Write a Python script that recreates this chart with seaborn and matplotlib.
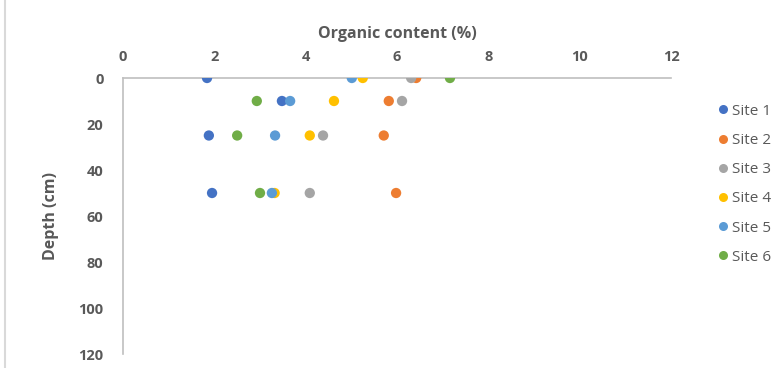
import matplotlib
matplotlib.use("Agg")
import matplotlib.pyplot as plt
from matplotlib.lines import Line2D
import seaborn as sns
import pandas as pd

# Organic content (%) measured at each depth, per site
depths = [0, 10, 25, 50]
sites = ["Site 1", "Site 2", "Site 3", "Site 4", "Site 5", "Site 6"]
site1 = [1.84, 3.48, 1.88, 1.95]
site2 = [6.42, 5.82, 5.71, 5.98]
site3 = [6.31, 6.11, 4.38, 4.09]
site4 = [5.25, 4.62, 4.09, 3.32]
site5 = [5.01, 3.66, 3.33, 3.26]
site6 = [7.16, 2.93, 2.50, 3.00]
x_ticks = [0, 2, 4, 6, 8, 10, 12]
y_ticks = [0, 20, 40, 60, 80, 100, 120]

colors = ["#4472C4", "#ED7D31", "#A5A5A5", "#FFC000", "#5B9BD5", "#70AD47"]

rows = []
for name, vals in zip(sites, [site1, site2, site3, site4, site5, site6]):
    for d, v in zip(depths, vals):
        rows.append({"Site": name, "Depth": d, "Organic": v})
df = pd.DataFrame(rows)

sns.set_theme(style="white")
plt.rcParams["font.family"] = ["Open Sans", "DejaVu Sans"]
text_color = "#595959"
axis_color = "#BFBFBF"

fig = plt.figure(figsize=(7.81, 3.68), dpi=100)
ax = fig.add_axes([123 / 781, 1 - 354 / 368, (671 - 123) / 781, (354 - 78) / 368])

sns.scatterplot(data=df, x="Organic", y="Depth", hue="Site", hue_order=sites,
                palette=colors, s=55, linewidth=0, ax=ax, legend=False, zorder=3)

ax.set_xlim(0, 12)
ax.set_ylim(120, 0)
ax.set_xticks(x_ticks)
ax.set_yticks(y_ticks)
ax.xaxis.tick_top()
ax.xaxis.set_label_position("top")
ax.tick_params(axis="both", length=0, colors=text_color, labelsize=10.5)
ax.tick_params(axis="x", pad=10)
ax.tick_params(axis="y", pad=14)
for lbl in ax.get_xticklabels() + ax.get_yticklabels():
    lbl.set_fontweight("bold")
    lbl.set_color(text_color)

for side in ["right", "bottom"]:
    ax.spines[side].set_visible(False)
for side in ["top", "left"]:
    ax.spines[side].set_color(axis_color)
    ax.spines[side].set_linewidth(1.2)

ax.set_xlabel("Organic content (%)", fontsize=11.5, fontweight="bold",
              color=text_color, labelpad=9)
ax.set_ylabel("Depth (cm)", fontsize=11.5, fontweight="bold",
              color=text_color, labelpad=14)

handles = [Line2D([0], [0], marker="o", linestyle="", markersize=6.5,
                  markerfacecolor=c, markeredgewidth=0) for c in colors]
leg = fig.legend(handles, sites, loc="upper left", bbox_to_anchor=(700 / 781, 1 - 90 / 368),
                 frameon=False, fontsize=11, handletextpad=0.0, labelspacing=0.93,
                 handlelength=1.2)
for t in leg.get_texts():
    t.set_color(text_color)

# chart area border on the left edge
fig.add_artist(Line2D([5 / 781, 5 / 781], [0, 1], color="#D9D9D9", linewidth=1.5,
                      transform=fig.transFigure))

fig.savefig("out.png", dpi=100, facecolor="white")
